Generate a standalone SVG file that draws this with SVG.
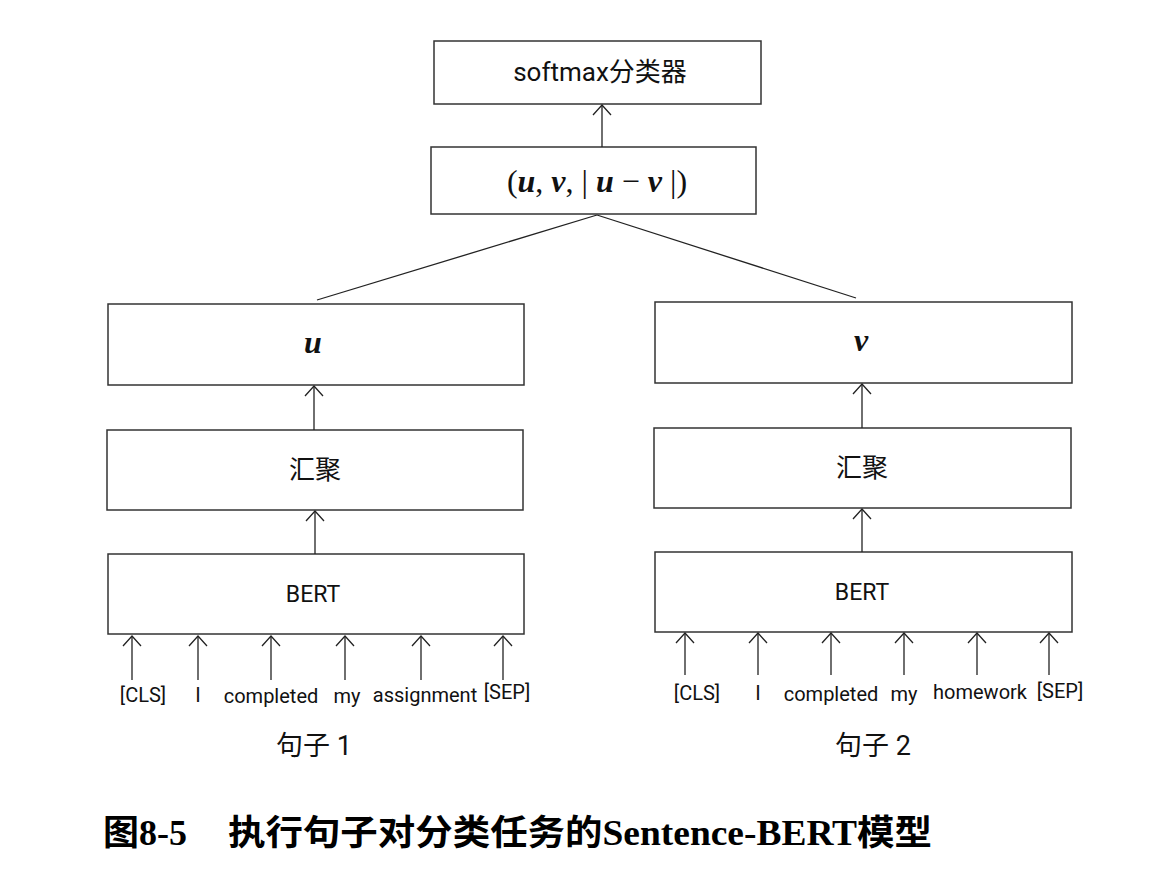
<svg xmlns="http://www.w3.org/2000/svg" width="1157" height="870" viewBox="0 0 1157 870">
<style>
.box{fill:#fff;stroke:#333;stroke-width:1.5}
.lbl{font-family:Roboto,"Noto Sans CJK SC",sans-serif;fill:#111;text-anchor:middle}
.math{font-family:"Liberation Serif",serif;fill:#111;text-anchor:middle}
.bi{font-weight:bold;font-style:italic}
.conn line{stroke:#222;stroke-width:1.3;fill:none}
.tok{font-family:Roboto,sans-serif;font-size:20px;fill:#111;text-anchor:middle}
</style>
<defs>
<marker id="ah" markerUnits="userSpaceOnUse" markerWidth="14" markerHeight="24" viewBox="-12 -12 14 24" refX="0" refY="0" orient="auto">
<path d="M-10,-9 L0,0 L-10,9" fill="none" stroke="#222" stroke-width="1.3"/>
</marker>
</defs>
<rect width="1157" height="870" fill="#fff"/>
<g id="softmax"><rect class="box" x="434" y="41" width="327" height="63"/><text class="lbl" x="600" y="81" font-size="26">softmax分类器</text></g>
<g id="concat"><rect class="box" x="431" y="147" width="325" height="67"/>
<text class="math" x="597" y="192" font-size="32">(<tspan class="bi">u</tspan>, <tspan class="bi">v</tspan>, | <tspan class="bi">u</tspan> − <tspan class="bi">v</tspan> |)</text></g>
<g id="u"><rect class="box" x="108" y="304" width="416" height="81"/><text class="math bi" x="313" y="353" font-size="32">u</text></g>
<g id="v"><rect class="box" x="655" y="302" width="417" height="81"/><text class="math bi" x="861" y="351" font-size="32">v</text></g>
<g id="pool1"><rect class="box" x="107" y="430" width="416" height="80"/><text class="lbl" x="315" y="479" font-size="26">汇聚</text></g>
<g id="pool2"><rect class="box" x="654" y="428" width="417" height="80"/><text class="lbl" x="862" y="477" font-size="26">汇聚</text></g>
<g id="bert1"><rect class="box" x="108" y="554" width="416" height="80"/><text class="lbl" x="313" y="602" font-size="23">BERT</text></g>
<g id="bert2"><rect class="box" x="655" y="552" width="417" height="80"/><text class="lbl" x="862" y="600" font-size="23">BERT</text></g>
<g class="conn" id="connectors">
<line x1="602" y1="147" x2="602" y2="105" marker-end="url(#ah)"/>
<line x1="597" y1="215" x2="317" y2="300"/>
<line x1="597" y1="215" x2="856" y2="298"/>
<line x1="314" y1="430" x2="314" y2="386" marker-end="url(#ah)"/>
<line x1="315" y1="554" x2="315" y2="511" marker-end="url(#ah)"/>
<line x1="862" y1="428" x2="862" y2="384" marker-end="url(#ah)"/>
<line x1="862" y1="552" x2="862" y2="509" marker-end="url(#ah)"/>
<line x1="132" y1="680" x2="132" y2="636" marker-end="url(#ah)"/>
<line x1="198" y1="680" x2="198" y2="636" marker-end="url(#ah)"/>
<line x1="271" y1="680" x2="271" y2="636" marker-end="url(#ah)"/>
<line x1="345" y1="680" x2="345" y2="636" marker-end="url(#ah)"/>
<line x1="421" y1="680" x2="421" y2="636" marker-end="url(#ah)"/>
<line x1="503" y1="680" x2="503" y2="636" marker-end="url(#ah)"/>
<line x1="685" y1="675" x2="685" y2="633" marker-end="url(#ah)"/>
<line x1="758" y1="675" x2="758" y2="633" marker-end="url(#ah)"/>
<line x1="831" y1="675" x2="831" y2="633" marker-end="url(#ah)"/>
<line x1="904" y1="675" x2="904" y2="633" marker-end="url(#ah)"/>
<line x1="977" y1="675" x2="977" y2="633" marker-end="url(#ah)"/>
<line x1="1049" y1="675" x2="1049" y2="633" marker-end="url(#ah)"/>
</g>
<g id="tokens1">
<text class="tok" x="143" y="702">[CLS]</text>
<text class="tok" x="198" y="702">I</text>
<text class="tok" x="271" y="703">completed</text>
<text class="tok" x="347" y="703">my</text>
<text class="tok" x="425" y="702">assignment</text>
<text class="tok" x="507" y="699">[SEP]</text>
</g>
<g id="tokens2">
<text class="tok" x="697" y="700">[CLS]</text>
<text class="tok" x="758" y="700">I</text>
<text class="tok" x="831" y="701">completed</text>
<text class="tok" x="904" y="701">my</text>
<text class="tok" x="980" y="699">homework</text>
<text class="tok" x="1060" y="698">[SEP]</text>
</g>
<text class="lbl" x="314" y="755" font-size="27">句子 1</text>
<text class="lbl" x="873" y="755" font-size="27">句子 2</text>
<g id="caption" font-family="'Liberation Serif','Noto Sans CJK SC',serif" font-weight="bold" font-size="35" fill="#000">
<text x="103" y="845" textLength="84" lengthAdjust="spacingAndGlyphs">图8-5</text>
<text x="228" y="845" textLength="704" lengthAdjust="spacingAndGlyphs">执行句子对分类任务的Sentence-BERT模型</text>
</g>
</svg>
